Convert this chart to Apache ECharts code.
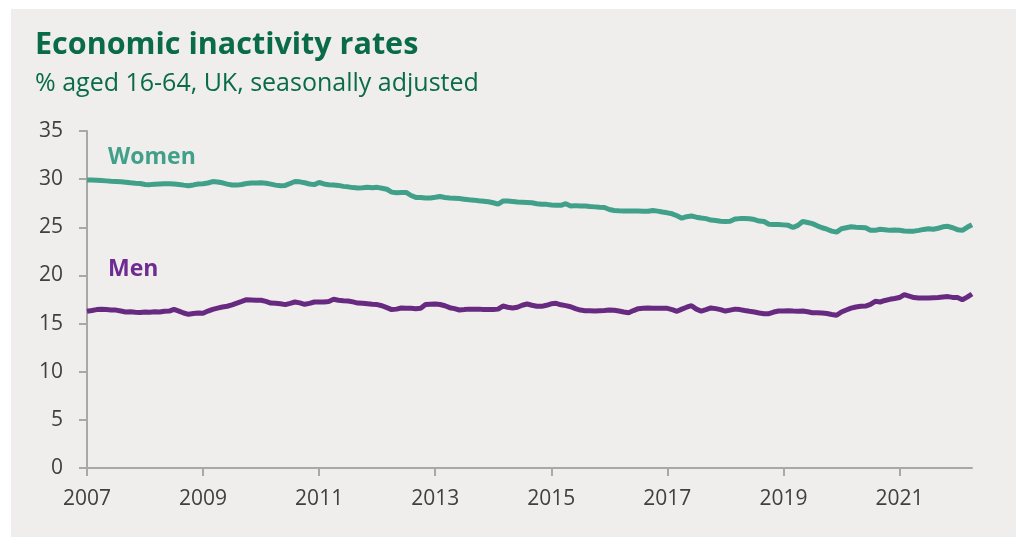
<!DOCTYPE html>
<html>
<head>
<meta charset="utf-8">
<title>Economic inactivity rates</title>
<script src="https://cdn.jsdelivr.net/npm/echarts@6/dist/echarts.min.js"></script>
<style>
  html, body { margin: 0; padding: 0; background: #ffffff; }
  #chart { width: 1016px; height: 538px; }
</style>
</head>
<body>
<div id="chart"></div>
<script>
// Monthly economic inactivity rates, % of people aged 16-64, UK, Jan 2007 - Apr 2022
const startYear = 2007;
const monthCount = 184;

const women = [
  29.9, 29.9, 29.88, 29.85, 29.82, 29.78, 29.75, 29.72, 29.68, 29.62, 29.58, 29.55,
  29.45, 29.43, 29.48, 29.5, 29.52, 29.53, 29.5, 29.45, 29.38, 29.32, 29.4, 29.5,
  29.52, 29.6, 29.75, 29.7, 29.62, 29.48, 29.4, 29.38, 29.45, 29.55, 29.6, 29.6,
  29.62, 29.58, 29.48, 29.38, 29.32, 29.35, 29.55, 29.75, 29.72, 29.62, 29.5, 29.43,
  29.65, 29.5, 29.42, 29.4, 29.35, 29.25, 29.2, 29.12, 29.08, 29.1, 29.15, 29.1,
  29.15, 29.05, 28.95, 28.65, 28.58, 28.6, 28.62, 28.3, 28.1, 28.1, 28.05, 28.05,
  28.12, 28.2, 28.1, 28.05, 28.02, 27.98, 27.92, 27.85, 27.82, 27.75, 27.7, 27.65,
  27.55, 27.4, 27.72, 27.72, 27.68, 27.62, 27.6, 27.58, 27.55, 27.45, 27.4, 27.38,
  27.32, 27.3, 27.28, 27.45, 27.22, 27.25, 27.2, 27.2, 27.15, 27.12, 27.08, 27.05,
  26.85, 26.75, 26.72, 26.7, 26.7, 26.68, 26.68, 26.66, 26.66, 26.75, 26.68, 26.58,
  26.5, 26.4, 26.2, 25.95, 26.1, 26.17, 26.05, 25.96, 25.9, 25.75, 25.7, 25.62,
  25.6, 25.62, 25.85, 25.9, 25.9, 25.88, 25.8, 25.65, 25.6, 25.32, 25.28, 25.28,
  25.25, 25.2, 24.98, 25.2, 25.6, 25.5, 25.38, 25.15, 24.95, 24.8, 24.6, 24.5,
  24.85, 24.95, 25.05, 25.0, 24.98, 24.95, 24.7, 24.68, 24.8, 24.75, 24.68, 24.72,
  24.7, 24.62, 24.6, 24.6, 24.68, 24.78, 24.85, 24.8, 24.9, 25.05, 25.1, 24.95,
  24.75, 24.68, 25.0, 25.27
];

const men = [
  16.27, 16.35, 16.45, 16.48, 16.45, 16.42, 16.4, 16.3, 16.2, 16.22, 16.18, 16.16,
  16.2, 16.18, 16.22, 16.2, 16.28, 16.3, 16.48, 16.3, 16.1, 15.96, 16.05, 16.1,
  16.08, 16.3, 16.48, 16.6, 16.72, 16.8, 16.95, 17.13, 17.3, 17.48, 17.45, 17.42,
  17.42, 17.3, 17.13, 17.1, 17.05, 16.97, 17.1, 17.24, 17.15, 17.0, 17.1, 17.24,
  17.24, 17.24, 17.3, 17.52, 17.42, 17.38, 17.35, 17.25, 17.13, 17.1, 17.05, 17.0,
  16.97, 16.85, 16.65, 16.45, 16.5, 16.62, 16.6, 16.58, 16.55, 16.6, 16.97, 17.0,
  17.03, 16.98, 16.85, 16.65, 16.55, 16.41, 16.45, 16.5, 16.48, 16.5, 16.46, 16.45,
  16.45, 16.5, 16.82, 16.7, 16.62, 16.7, 16.9, 17.03, 16.9, 16.8, 16.79, 16.9,
  17.05, 17.1, 16.95, 16.86, 16.75, 16.55, 16.4, 16.34, 16.32, 16.3, 16.33, 16.36,
  16.41, 16.38, 16.3, 16.2, 16.13, 16.35, 16.55, 16.6, 16.62, 16.6, 16.58, 16.58,
  16.58, 16.45, 16.27, 16.5, 16.7, 16.86, 16.5, 16.3, 16.45, 16.62, 16.55, 16.45,
  16.3, 16.4, 16.5, 16.45, 16.35, 16.27, 16.2, 16.1, 16.03, 16.03, 16.2, 16.3,
  16.3, 16.34, 16.3, 16.28, 16.3, 16.22, 16.13, 16.12, 16.1, 16.05, 15.95, 15.86,
  16.2, 16.41, 16.6, 16.72, 16.8, 16.82, 17.0, 17.31, 17.24, 17.4, 17.52, 17.6,
  17.7, 18.0, 17.85, 17.7, 17.66, 17.66, 17.66, 17.68, 17.7, 17.75, 17.8, 17.72,
  17.7, 17.48, 17.75, 18.07
];

const yTicks = { min: 0, max: 35, step: 5 };

// One category per month; the year label is shown in January of every second year
const months = [];
for (let i = 0; i < monthCount; i++) {
  const y = startYear + Math.floor(i / 12);
  const m = (i % 12) + 1;
  months.push(y + '-' + (m < 10 ? '0' + m : m));
}

const GREEN_TITLE = '#0a6b4b';
const TEAL = '#40a08a';
const PURPLE = '#672a80';
const AXIS = '#a8a8a8';
const TEXT = '#404040';
const FONT = '"Open Sans", "Noto Sans", sans-serif';

const chart = echarts.init(document.getElementById('chart'), null, { renderer: 'canvas' });

chart.setOption({
  animation: false,
  backgroundColor: '#ffffff',
  graphic: [
    {
      type: 'rect', z: -10, silent: true,
      shape: { x: 11, y: 9, width: 1005, height: 528 },
      style: { fill: '#efeeec' }
    },
    {
      type: 'text', left: 35, top: 30,
      style: { text: 'Economic inactivity rates', fill: GREEN_TITLE,
               font: 'bold 30.5px "Open Sans", sans-serif' }
    },
    {
      type: 'text', left: 35, top: 71,
      style: { text: '% aged 16-64, UK, seasonally adjusted', fill: GREEN_TITLE,
               font: '25px "Open Sans", sans-serif' }
    },
    {
      type: 'text', left: 108, top: 146,
      style: { text: 'Women', fill: TEAL, font: 'bold 23px "Open Sans", sans-serif' }
    },
    {
      type: 'text', left: 108, top: 258,
      style: { text: 'Men', fill: '#6e2c92', font: 'bold 23px "Open Sans", sans-serif' }
    }
  ],
  grid: { left: 87, right: 44, top: 131, bottom: 70, containLabel: false },
  xAxis: {
    type: 'category',
    data: months,
    boundaryGap: false,
    axisLine: { lineStyle: { color: AXIS, width: 2 } },
    axisTick: { show: true, interval: 23, length: 8, lineStyle: { color: AXIS, width: 2 } },
    axisLabel: {
      interval: 23, margin: 21, color: TEXT, fontFamily: FONT, fontSize: 21,
      formatter: v => v.slice(0, 4)
    },
    splitLine: { show: false }
  },
  yAxis: {
    type: 'value',
    min: yTicks.min, max: yTicks.max, interval: yTicks.step,
    axisLine: { show: true, lineStyle: { color: AXIS, width: 2 } },
    axisTick: { show: true, length: 8, lineStyle: { color: AXIS, width: 2 } },
    axisLabel: { margin: 24, color: TEXT, fontFamily: FONT, fontSize: 21 },
    splitLine: { show: false }
  },
  series: [
    {
      name: 'Women', type: 'line', data: women, showSymbol: false,
      lineStyle: { color: TEAL, width: 5 }, itemStyle: { color: TEAL }
    },
    {
      name: 'Men', type: 'line', data: men, showSymbol: false,
      lineStyle: { color: PURPLE, width: 5 }, itemStyle: { color: PURPLE }
    }
  ]
});
</script>
</body>
</html>
